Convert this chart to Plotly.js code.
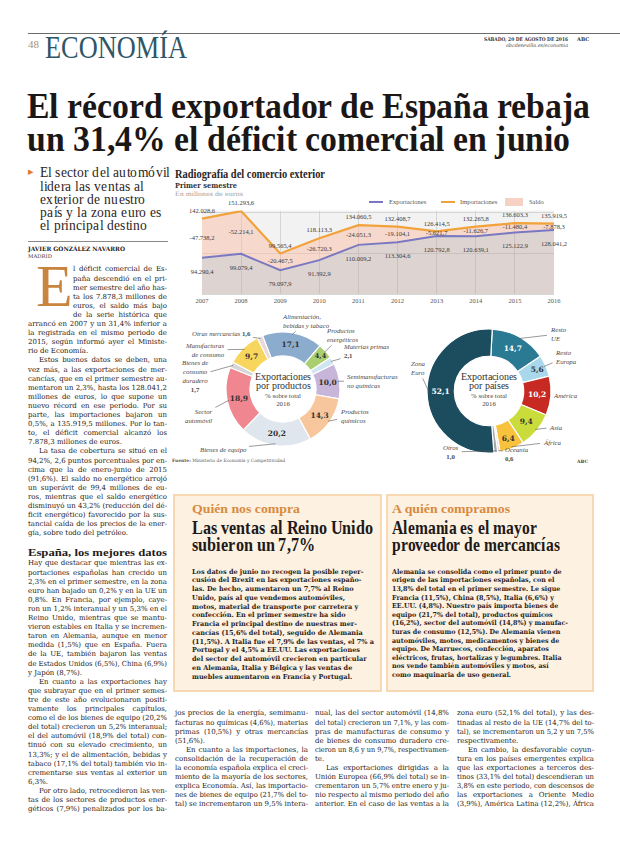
<!DOCTYPE html>
<html lang="es"><head><meta charset="utf-8">
<script src="https://cdn.plot.ly/plotly-3.0.1.min.js"></script>
<style>
@font-face{font-family:'TightSerif';src:local('Liberation Serif'),local('LiberationSerif');font-weight:400;ascent-override:70%;descent-override:14%;line-gap-override:0%}
@font-face{font-family:'TightSerif';src:local('Liberation Serif Bold'),local('LiberationSerif-Bold');font-weight:700;ascent-override:70%;descent-override:14%;line-gap-override:0%}
html,body{margin:0;padding:0;background:#fff}
body{width:620px;height:846px;position:relative;overflow:hidden;color:#1f1b19;font-family:'DejaVu Serif',serif}
.a{position:absolute;white-space:nowrap}
.a>span{display:inline-block;transform-origin:0 50%}
.ls{font-family:'Liberation Serif',serif}
.ts{font-family:'TightSerif','Liberation Serif',serif}
</style></head><body>
<div id="chart" style="position:absolute;left:170px;top:160px;width:430px;height:315px;z-index:1"></div>
<script>
// ---------- DATA ----------
const years=[2007,2008,2009,2010,2011,2012,2013,2014,2015,2016];
const exportaciones=[94290.4,99079.4,79097.9,91392.9,110009.2,113304.6,120792.8,120639.1,125122.9,128041.2];
const importaciones=[142028.6,151293.6,99565.4,118113.3,134060.5,132408.7,126414.5,132265.8,136603.3,135919.5];
const saldo=[-47738.2,-52214.1,-20467.5,-26720.3,-24051.3,-19104.1,-5621.7,-11626.7,-11480.4,-7878.3];
const productos=['Alimentación, bebidas y tabaco','Productos energéticos','Materias primas','Semimanufacturas no químicas','Productos químicos','Bienes de equipo','Sector automóvil','Bienes de consumo duradero','Manufacturas de consumo','Otras mercancías'];
const productosPct=[17.1,4.4,2.1,10.0,14.3,20.2,18.9,1.7,9.7,1.6];
const paises=['Resto UE','Resto Europa','América','Asia','África','Oceanía','Otros','Zona Euro'];
const paisesPct=[14.7,5.6,10.2,9.4,6.4,0.6,1.0,52.1];

// ---------- helpers ----------
function fmt(v){const n=v<0;v=Math.abs(v);let [i,d]=v.toFixed(1).split('.');i=i.replace(/\B(?=(\d{3})+(?!\d))/g,'.');return (n?'-':'')+i+','+d;}
function fmt1(v){return v.toFixed(1).replace('.',',');}
function put(html,x,yc,o){
  o=o||{};const lh=o.lh||10;
  const d=document.createElement('div');d.className='a '+(o.cls||'');
  d.style.left=x+'px';d.style.top=(yc-lh/2)+'px';d.style.lineHeight=lh+'px';
  if(!o.multi)d.style.height=lh+'px';
  if(o.fs)d.style.fontSize=o.fs+'px';
  if(o.center){d.style.transform='translateX(-50%)';d.style.textAlign='center';}
  if(o.style)Object.assign(d.style,o.style);
  const s=document.createElement('span');s.innerHTML=html;d.appendChild(s);document.body.appendChild(d);
  if(o.w){d.dataset.w=o.w;d.dataset.m=o.m||'shrink';}
  if(o.g)d.dataset.g=o.g;
  return d;
}
function apply(s,w,W,m){
  if(m==='j'){const n=(s.textContent.match(/ /g)||[]).length;
    if(w<W&&n){s.style.wordSpacing=((W-w)/n)+'px';}else if(w>W){s.style.transform='scaleX('+(W/w)+')';}}
  else if(m==='s'){s.style.transform='scaleX('+(W/w)+')';}
  else{if(w>W)s.style.transform='scaleX('+(W/w)+')';}
}
function fit(){
  const groups={};
  document.querySelectorAll('[data-w]').forEach(d=>{
    const s=d.firstChild;s.style.transform='';s.style.wordSpacing='';
    const w=s.getBoundingClientRect().width;const W=+d.dataset.w;const m=d.dataset.m;
    if(d.dataset.g){(groups[d.dataset.g]=groups[d.dataset.g]||[]).push([s,w,W]);return;}
    apply(s,w,W,m);
  });
  for(const k in groups){let f=Infinity;groups[k].forEach(([s,w,W])=>{f=Math.min(f,W/w);});
    groups[k].forEach(([s])=>{s.style.transform='scaleX('+f+')';});}
}
function column(pars,x,y0,w,lh,cls,fs,indent){
  let y=y0;
  pars.forEach(p=>{
    if(p.heading){y+=p.pre||0;put(p.heading,x,y,{lh:12,fs:p.fs,cls:'ls',style:{fontWeight:'bold'},w:w,m:'s'});y+=p.post;return;}
    p.lines.forEach((t,i)=>{
      let xx=x,ww=w;
      if(p.drop&&i<6){xx=x+45;ww=w-45;}
      else if(i===0&&p.ind){xx=x+indent;ww=w-indent;}
      const last=(i===p.lines.length-1)&&!p.cont;
      put(t,xx,y,{lh:lh,fs:fs,cls:cls,w:ww,m:last?'shrink':'j'});
      y+=lh;
    });
  });
}

// ---------- HEADER ----------
const rule=document.createElement('div');rule.style.cssText='position:absolute;left:28px;right:0;top:33px;height:1px;background:#6b6b6b';document.body.appendChild(rule);
put('48',28,44,{fs:11,cls:'ls',lh:12,style:{color:'#a8916f'}});
put('ECONOMÍA',45,48,{fs:31,cls:'ls',lh:30,style:{color:'#2e5667'},w:142,m:'s'});
put('SÁBADO, 20 DE AGOSTO DE 2016',484,39,{fs:5,lh:6,style:{fontWeight:'bold',color:'#333'},w:84,m:'s'});
put('ABC',577,39,{fs:5,lh:6,style:{fontWeight:'bold',color:'#333'}});
put('abcdesevilla.es/economia',506,45,{fs:5,lh:6,style:{fontStyle:'italic',color:'#444'},w:62,m:'s'});
put('El récord exportador de España rebaja<br>un 31,4% el déficit comercial en junio',27,108,{fs:36,lh:33,multi:true,cls:'ts',style:{fontWeight:'bold',color:'#1a1716'},w:563,m:'s'});

// ---------- LEFT COLUMN ----------
put('▸',28,172,{fs:11,lh:12,style:{color:'#e07a2c'}});
put('El sector del automóvil<br>lidera las ventas al<br>exterior de nuestro<br>país y la zona euro es<br>el principal destino',40,174,{fs:14.5,lh:13.2,multi:true,cls:'ts',style:{color:'#2a2523'},w:130,m:'s'});
const sep=document.createElement('div');sep.style.cssText='position:absolute;left:28px;width:140px;top:241px;height:1px;background:#8a8a8a';document.body.appendChild(sep);
put('JAVIER GONZÁLEZ NAVARRO',28,248.5,{fs:6,lh:7,style:{fontWeight:'bold'},w:97,m:'s'});
put('MADRID',28,255.5,{fs:5,lh:6,style:{color:'#444'},w:24,m:'s'});
put('E',36,289,{fs:60,lh:40,cls:'ts',style:{color:'#c8853f'}});

const col1=[
 {drop:true,lines:['l déficit comercial de Es-','paña descendió en el pri-','mer semestre del año has-','ta los 7.878,3 millones de','euros, el saldo más bajo','de la serie histórica que','arrancó en 2007 y un 31,4% inferior a','la registrada en el mismo periodo de','2015, según informó ayer el Ministe-','rio de Economía.']},
 {ind:true,lines:['Estos buenos datos se deben, una','vez más, a las exportaciones de mer-','cancías, que en el primer semestre au-','mentaron un 2,3%, hasta los 128.041,2','millones de euros, lo que supone un','nuevo récord en ese periodo. Por su','parte, las importaciones bajaron un','0,5%, a 135.919,5 millones. Por lo tan-','to, el déficit comercial alcanzó los','7.878,3 millones de euros.']},
 {ind:true,lines:['La tasa de cobertura se situó en el','94,2%, 2,6 puntos porcentuales por en-','cima que la de enero-junio de 2015','(91,6%). El saldo no energético arrojó','un superávit de 99,4 millones de eu-','ros, mientras que el saldo energético','disminuyó un 43,2% (reducción del dé-','ficit energético) favorecido por la sus-','tancial caída de los precios de la ener-','gía, sobre todo del petróleo.']},
 {heading:'España, los mejores datos',fs:11,pre:9,post:12},
 {lines:['Hay que destacar que mientras las ex-','portaciones españolas han crecido un','2,3% en el primer semestre, en la zona','euro han bajado un 0,2% y en la UE un','0,8%. En Francia, por ejemplo, caye-','ron un 1,2% interanual y un 5,3% en el','Reino Unido, mientras que se mantu-','vieron estables en Italia y se incremen-','taron en Alemania, aunque en menor','medida (1,5%) que en España. Fuera','de la UE, también bajaron las ventas','de Estados Unidos (6,5%), China (6,9%)','y Japón (8,7%).']},
 {ind:true,lines:['En cuanto a las exportaciones hay','que subrayar que en el primer semes-','tre de este año evolucionaron positi-','vamente los principales capítulos,','como el de los bienes de equipo (20,2%','del total) crecieron un 5,2% interanual;','el del automóvil (18,9% del total) con-','tinuó con su elevado crecimiento, un','13,3%; y el de alimentación, bebidas y','tabaco (17,1% del total) también vio in-','crementarse sus ventas al exterior un','6,3%.']},
 {ind:true,cont:true,lines:['Por otro lado, retrocedieron las ven-','tas de los sectores de productos ener-','géticos (7,9%) penalizados por los ba-']}
];
column(col1,28,270,139,9.1,'',7,11);

// ---------- BOXES ----------
function box(x,w){const b=document.createElement('div');b.style.cssText=`position:absolute;left:${x}px;top:494px;width:${w}px;height:198px;background:#fdf1e2;border:2px solid #f7d8b3;box-sizing:border-box`;document.body.appendChild(b);}
box(173,209);box(386,208);
put('Quién nos compra',192,508,{fs:13,lh:13,cls:'ls',style:{fontWeight:'bold',color:'#d88a3e'},w:108,m:'s'});
put('Las ventas al Reino Unido<br>subieron un 7,7%',192,528,{fs:20,lh:17,multi:true,cls:'ts',style:{fontWeight:'bold',color:'#1d1a19'},w:181,m:'s'});
const box1=['Los datos de junio no recogen la posible reper-','cusión del Brexit en las exportaciones españo-','las. De hecho, aumentaron un 7,7% al Reino','Unido, país al que vendemos automóviles,','motos, material de transporte por carretera y','confección. En el primer semestre ha sido','Francia el principal destino de nuestras mer-','cancías (15,6% del total), seguido de Alemania','(11,5%). A Italia fue el 7,9% de las ventas, el 7% a','Portugal y el 4,5% a EE.UU. Las exportaciones','del sector del automóvil crecieron en particular','en Alemania, Italia y Bélgica y las ventas de','muebles aumentaron en Francia y Portugal.'];
box1.forEach((t,i)=>put(t,192,572+i*8.75,{fs:6.8,lh:8.6,style:{fontWeight:'bold',color:'#2b2522'},w:182,g:'b1'}));
put('A quién compramos',392,508,{fs:13,lh:13,cls:'ls',style:{fontWeight:'bold',color:'#d88a3e'},w:118,m:'s'});
put('Alemania es el mayor<br>proveedor de mercancías',392,528,{fs:20,lh:17,multi:true,cls:'ts',style:{fontWeight:'bold',color:'#1d1a19'},w:168,m:'s'});
const box2=['Alemania se consolida como el primer punto de','origen de las importaciones españolas, con el','13,8% del total en el primer semestre. Le sigue','Francia (11,5%), China (8,5%), Italia (6,6%) y','EE.UU. (4,8%). Nuestro país importa bienes de','equipo (21,7% del total), productos químicos','(16,2%), sector del automóvil (14,8%) y manufac-','turas de consumo (12,5%). De Alemania vienen','automóviles, motos, medicamentos y bienes de','equipo. De Marruecos, confección, aparatos','eléctricos, frutas, hortalizas y legumbres. Italia','nos vende también automóviles y motos, así','como maquinaria de uso general.'];
box2.forEach((t,i)=>put(t,392,572+i*8.6,{fs:6.8,lh:8.4,style:{fontWeight:'bold',color:'#2b2522'},w:176,g:'b2'}));

// ---------- BOTTOM COLUMNS ----------
column([{lines:['jos precios de la energía, semimanu-','facturas no químicas (4,6%), materias','primas (10,5%) y otras mercancías','(51,6%).']},
 {ind:true,cont:true,lines:['En cuanto a las importaciones, la','consolidación de la recuperación de','la economía española explica el creci-','miento de la mayoría de los sectores,','explica Economía. Así, las importacio-','nes de bienes de equipo (21,7% del to-','tal) se incrementaron un 9,5% intera-']}],175,714,133,9.1,'',7,11);
column([{lines:['nual, las del sector automóvil (14,8%','del total) crecieron un 7,1%, y las com-','pras de manufacturas de consumo y','de bienes de consumo duradero cre-','cieron un 8,6 y un 9,7%, respectivamen-','te.']},
 {ind:true,cont:true,lines:['Las exportaciones dirigidas a la','Unión Europea (66,9% del total) se in-','crementaron un 5,7% entre enero y ju-','nio respecto al mismo periodo del año','anterior. En el caso de las ventas a la']}],315,714,134,9.1,'',7,11);
column([{lines:['zona euro (52,1% del total), y las des-','tinadas al resto de la UE (14,7% del to-','tal), se incrementaron un 5,2 y un 7,5%','respectivamente.']},
 {ind:true,cont:true,lines:['En cambio, la desfavorable coyun-','tura en los países emergentes explica','que las exportaciones a terceros des-','tinos (33,1% del total) descendieran un','3,8% en este periodo, con descensos de','las exportaciones a Oriente Medio','(3,9%), América Latina (12,2%), África']}],457,714,137,9.1,'',7,11);

// ---------- CHART HEADINGS (HTML) ----------
put('Radiografía del comercio exterior',175,174,{fs:11.5,lh:11,cls:'ls',style:{fontWeight:'bold',color:'#2a2523',zIndex:2},w:150,m:'s'});
put('Primer semestre',175,185,{fs:8,lh:8.5,style:{fontWeight:'bold',color:'#333',zIndex:2},w:62,m:'s'});
put('En millones de euros',175,193.5,{fs:6,lh:7,style:{color:'#9a9a9a',zIndex:2},w:68,m:'s'});
put('<b>Fuente:</b> Ministerio de Economía y Competitividad',172,461,{fs:4.5,lh:6,style:{color:'#555',zIndex:2},w:113,m:'s'});
put('ABC',577,462,{fs:4.5,lh:6,style:{fontWeight:'bold',color:'#444',zIndex:2}});

// ---------- PLOTLY ----------
const L=170,T=160,W=430,H=315;
const px=x=>(x-L)/W, py=y=>(T+H-y)/H;
const serif='Liberation Serif, serif';
const mid=importaciones.map((v,i)=>(v+exportaciones[i])/2);
const traces=[
 {x:years,y:exportaciones,mode:'lines',line:{color:'#7a78c2',width:2},fill:'tozeroy',fillcolor:'rgba(190,170,165,0.42)',hoverinfo:'skip'},
 {x:years,y:importaciones,mode:'lines',line:{color:'#f1a23a',width:2.2},fill:'tonexty',fillcolor:'rgba(251,190,166,0.5)',hoverinfo:'skip'},
 {x:years,y:importaciones,mode:'markers+text',marker:{size:5,opacity:0},text:importaciones.map(fmt),textposition:'top center',textfont:{family:serif,size:6.5,color:'#3a3a3a'},cliponaxis:false,hoverinfo:'skip'},
 {x:years,y:mid,mode:'text',text:saldo.map(fmt),textposition:'middle center',textfont:{family:serif,size:6.5,color:'#3a3a3a'},cliponaxis:false,hoverinfo:'skip'},
 {x:years,y:exportaciones,mode:'markers+text',marker:{size:16,opacity:0},text:exportaciones.map(fmt),textposition:'bottom center',textfont:{family:serif,size:6.5,color:'#3a3a3a'},cliponaxis:false,hoverinfo:'skip'}
];
const p1={cx:283,cy:389,R:57,rot:-21}, p2={cx:489,cy:391,R:62,rot:3};
const prodColors=['#8cacce','#a9cf71','#cfe5f1','#c7b6da','#f8c69c','#dfe6ee','#ef8690','#d6d6d6','#f8d55c','#ead9da'];
const paisColors=['#2a7a93','#a9d8ec','#c62a22','#cadc3b','#f8c23c','#dcdcdc','#a6a6a6','#1c4d5f'];
function dom(p){return {x:[px(p.cx-p.R),px(p.cx+p.R)],y:[py(p.cy+p.R),py(p.cy-p.R)]};}
traces.push({type:'pie',labels:productos,values:productosPct,sort:false,direction:'clockwise',rotation:p1.rot,hole:0.58,domain:dom(p1),
  marker:{colors:prodColors,line:{color:'#ffffff',width:1.2}},text:productosPct.map(v=>v>=3?fmt1(v):''),textinfo:'text',texttemplate:'<b>%{text}</b>',
  textposition:'inside',insidetextorientation:'horizontal',textfont:{family:'DejaVu Serif, serif',size:7.5,color:'#333'},hoverinfo:'skip',showlegend:false});
traces.push({type:'pie',labels:paises,values:paisesPct,sort:false,direction:'clockwise',rotation:p2.rot,hole:0.56,domain:dom(p2),
  marker:{colors:paisColors,line:{color:'#ffffff',width:1.2}},text:paisesPct.map(v=>v>=3?fmt1(v):''),textinfo:'text',texttemplate:'<b>%{text}</b>',
  textposition:'inside',insidetextorientation:'horizontal',textfont:{family:'DejaVu Serif, serif',size:7.5,color:['#fff','#333','#fff','#333','#333','#333','#333','#fff']},hoverinfo:'skip',showlegend:false});

function ringPt(p,vals,i){const tot=vals.reduce((a,b)=>a+b,0);let b=0;for(let k=0;k<i;k++)b+=vals[k];
  const th=(p.rot+(b+vals[i]/2)/tot*360)*Math.PI/180;return [p.cx+p.R*0.97*Math.sin(th),p.cy-p.R*0.97*Math.cos(th)];}
const prodLabelText=['Alimentación,<br>bebidas y tabaco','Productos<br>energéticos','Materias primas<br><b>2,1</b>','Semimanufacturas<br>no químicas','Productos<br>químicos','Bienes de equipo','Sector<br>automóvil','Bienes de<br>consumo<br>duradero<br><b>1,7</b>','Manufacturas<br>de consumo','Otras mercancías <b>1,6</b>'];
const prodLabelPos=[[306,321,'left'],[342,335,'left'],[366,351,'left'],[372,381,'left'],[354,416,'left'],[223,449,'center'],[199,416,'right'],[195,376,'center'],[205,350,'right'],[221,333,'left']];
const paisLabelText=['Resto<br>UE','Resto<br>Europa','América','Asia','África','Oceanía<br><b>0,6</b>','Otros<br><b>1,0</b>','Zona<br>Euro'];
const paisLabelPos=[[558,334,'left'],[566,357,'left'],[565,395,'left'],[556,427,'left'],[552,442,'left'],[517,454,'left'],[451,452,'center'],[418,368,'left']];
const ann=[];
function labels(p,vals,txt,pos){vals.forEach((v,i)=>{const [rx,ry]=ringPt(p,vals,i);const [lx,ly,al]=pos[i];
  ann.push({x:px(rx),y:py(ry),xref:'paper',yref:'paper',ax:lx-rx,ay:ly-ry,text:'<i>'+txt[i].replace(/<b>/g,'</i><b>').replace(/<\/b>/g,'</b><i>')+'</i>',align:al,
    showarrow:true,arrowhead:0,arrowwidth:0.6,arrowcolor:'#555',standoff:0,startstandoff:1,font:{family:serif,size:6.8,color:'#4a4a4a'}});});}
labels(p1,productosPct,prodLabelText,prodLabelPos);
labels(p2,paisesPct,paisLabelText,paisLabelPos);
function centerText(p,l2){
  put('Exportaciones<br>'+l2,p.cx,377.5,{fs:9.5,lh:9.5,multi:true,cls:'ts',center:true,style:{color:'#333',zIndex:2}});
  put('% sobre total<br>2016',p.cx,396,{fs:6.8,lh:8.5,multi:true,cls:'ls',center:true,style:{color:'#444',zIndex:2}});
}
centerText(p1,'por productos');centerText(p2,'por países');
const shapes=[
 {type:'line',xref:'paper',yref:'paper',x0:px(369),x1:px(383),y0:py(202),y1:py(202),line:{color:'#7a78c2',width:2}},
 {type:'line',xref:'paper',yref:'paper',x0:px(441),x1:px(455),y0:py(202),y1:py(202),line:{color:'#f1a23a',width:2}},
 {type:'rect',xref:'paper',yref:'paper',x0:px(505),x1:px(523),y0:py(206),y1:py(198),fillcolor:'#f6d2c4',line:{width:0}}
];
[['Exportaciones',387],['Importaciones',458],['Saldo',527]].forEach(([t,x])=>ann.push({x:px(x),y:py(202),xref:'paper',yref:'paper',text:t,showarrow:false,xanchor:'left',yanchor:'middle',font:{family:serif,size:6.5,color:'#555'}}));

const layout={width:W,height:H,margin:{l:0,r:0,t:0,b:0},paper_bgcolor:'rgba(0,0,0,0)',plot_bgcolor:'#f3f2f2',showlegend:false,
 xaxis:{domain:[px(202),px(554)],range:[2007,2016],tickvals:years,ticktext:years.map(String),tickfont:{family:serif,size:6.5,color:'#555'},
   showgrid:true,gridcolor:'#cdcdcd',gridwidth:0.8,zeroline:false,showline:true,linecolor:'#cdcdcd',linewidth:0.8,ticks:'',fixedrange:true},
 yaxis:{domain:[py(294),py(210.5)],range:[50000,152000],tickvals:[100000,150000],showticklabels:false,gridcolor:'#cdcdcd',gridwidth:0.8,zeroline:false,showline:false,ticks:'',fixedrange:true},
 annotations:ann,shapes:shapes};
Plotly.newPlot('chart',traces,layout,{staticPlot:true,displayModeBar:false});

(document.fonts&&document.fonts.ready?document.fonts.ready:Promise.resolve()).then(()=>{fit();});
</script>
</body></html>
